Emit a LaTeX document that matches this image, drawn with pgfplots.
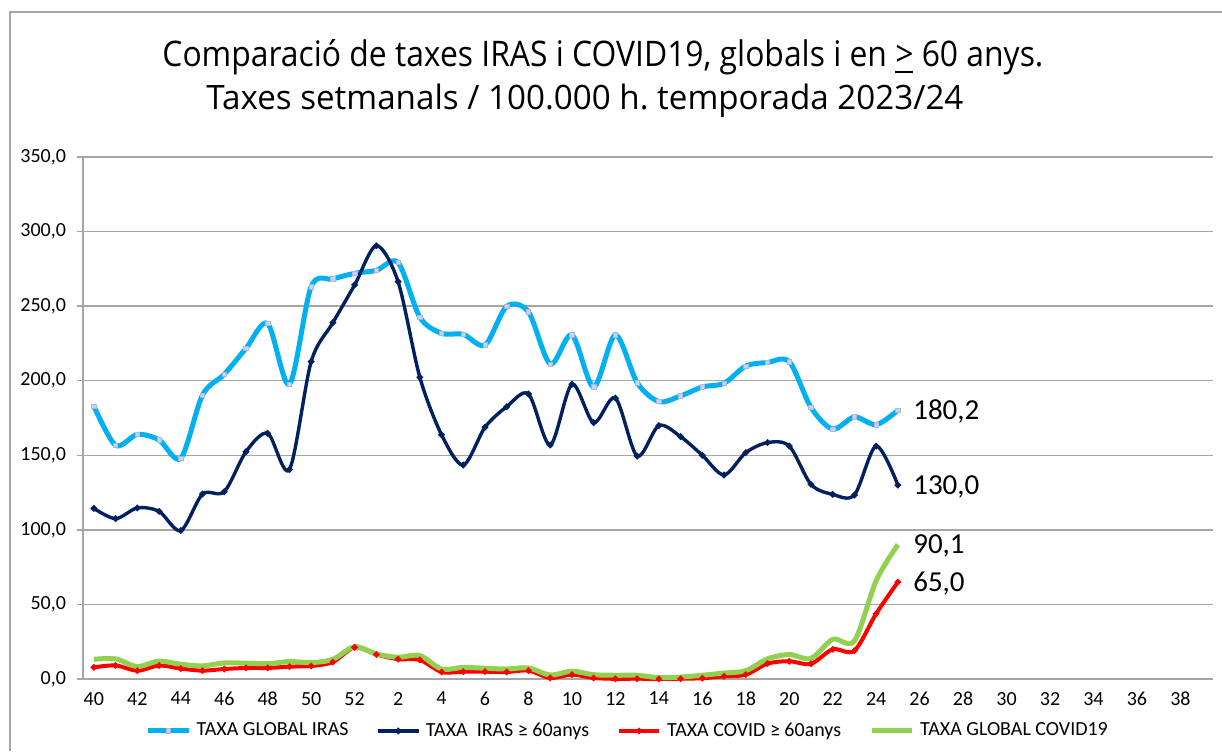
\documentclass[border=0pt]{standalone}
\usepackage{fontspec}
\setmainfont{Carlito}
\newfontfamily\titlefont{Open Sans}
\usepackage{pgfplots}
\usepackage{graphicx}
\pgfplotsset{compat=1.18}
\definecolor{lblue}{HTML}{00B0F0}
\definecolor{navy}{HTML}{002060}
\definecolor{dotblue}{HTML}{0070C0}
\definecolor{cgreen}{HTML}{92D050}
\definecolor{cred}{HTML}{FF0000}
\definecolor{gridc}{HTML}{A6A6A6}
\definecolor{markfill}{HTML}{C9D3EF}
\definecolor{markdraw}{HTML}{A9B8E0}
\frenchspacing
\begin{document}
\begin{tikzpicture}
\useasboundingbox (0,0) rectangle (611pt,375.5pt);
\fill[white] (0,0) rectangle (611pt,375.5pt);
\draw[gridc, line width=1pt] (5pt,0) -- (5pt,369.5pt) -- (611pt,369.5pt);
\node[anchor=base west, inner sep=0] at (81pt,342pt) {\resizebox{440.5pt}{13.5pt}{\titlefont Comparació de taxes IRAS i COVID19, globals i en \underline{>} 60 anys.}};
\node[anchor=base west, inner sep=0] at (103pt,320.5pt) {\resizebox{378.5pt}{12.75pt}{\titlefont Taxes setmanals / 100.000 h. temporada 2023/24}};
\begin{axis}[
  at={(41.5pt,36pt)}, anchor=south west,
  scale only axis, width=565pt, height=261pt,
  xmin=-0.5, xmax=51.5, ymin=0, ymax=350,
  clip=false,
  axis x line*=bottom, axis y line*=left,
  axis line style={gridc, line width=0.75pt, -},
  ytick={0,50,...,350},
  ymajorgrids=true,
  grid style={gridc, line width=0.75pt},
  yticklabel={\pgfmathprintnumber[fixed,fixed zerofill,precision=1,use comma]{\tick}},
  /pgf/number format/assume math mode=true,
  xtick={0,2,...,50},
  xticklabels={40,42,44,46,48,50,52,2,4,6,8,10,12,14,16,18,20,22,24,26,28,30,32,34,36,38},
  minor xtick={-0.5,0.5,...,51.5},
  tick align=outside,
  major tick length=3pt, minor tick length=3pt,
  xtick style={draw=none},
  minor x tick style={gridc, line width=0.75pt},
  ytick style={gridc, line width=0.75pt},
  tick label style={font=\fontsize{10}{12}\selectfont, black},
  yticklabel style={xshift=-2pt},
  legend columns=4,
  legend style={draw=none, fill=none, at={(axis description cs:0.483,-0.0996)}, anchor=center,
    font=\fontsize{10}{12}\selectfont, /tikz/every even column/.append style={column sep=12pt},
    /tikz/every odd column/.append style={column sep=1pt}},
  legend cell align=left,
  legend image code/.code={\draw[#1, mark repeat=2, mark phase=2] plot coordinates {(0pt,0pt) (10pt,0pt) (20pt,0pt)};},
]
\addplot[lblue, line width=2.5pt, smooth, mark=square*, mark size=1.1pt, mark options={fill=markfill, draw=markdraw, line width=0.3pt}] coordinates {
(0,183.0)(1,156.7)(2,164.0)(3,160.3)(4,148.0)(5,190.4)(6,204.3)(7,221.7)(8,238.3)(9,197.6)(10,263.1)(11,268.2)(12,272.0)(13,274.0)(14,279.2)(15,242.6)(16,231.8)(17,231.1)(18,224.0)(19,249.9)(20,246.1)(21,211.2)(22,230.7)(23,195.8)(24,230.7)(25,198.7)(26,186.0)(27,189.8)(28,195.8)(29,198.3)(30,209.8)(31,212.2)(32,212.8)(33,182.1)(34,167.6)(35,175.7)(36,170.5)(37,180.2)};
\addlegendentry{TAXA GLOBAL IRAS}
\addplot[navy, line width=1.7pt, smooth, mark=*, mark size=0.6pt, mark options={fill=dotblue, draw=none}] coordinates {
(0,114.4)(1,107.5)(2,114.7)(3,112.4)(4,99.5)(5,124.0)(6,125.6)(7,152.4)(8,164.7)(9,140.5)(10,212.8)(11,238.9)(12,264.2)(13,290.5)(14,266.4)(15,202.3)(16,163.8)(17,143.5)(18,168.8)(19,182.6)(20,191.1)(21,156.9)(22,197.6)(23,171.9)(24,188.4)(25,149.5)(26,169.9)(27,162.5)(28,150.0)(29,136.8)(30,151.8)(31,158.5)(32,156.2)(33,130.5)(34,123.8)(35,123.4)(36,156.2)(37,130.0)};
\addlegendentry{TAXA\ \ IRAS ≥ 60anys}
\addplot[cred, line width=2pt, smooth, mark=*, mark size=0.35pt, mark options={fill=red!75!black, draw=none}] coordinates {
(0,7.8)(1,9.1)(2,5.6)(3,9.0)(4,7.0)(5,5.6)(6,6.7)(7,7.4)(8,7.4)(9,8.3)(10,8.7)(11,11.4)(12,21.2)(13,16.4)(14,13.3)(15,12.8)(16,4.7)(17,4.9)(18,4.9)(19,4.7)(20,5.6)(21,0.7)(22,2.9)(23,0.7)(24,0.1)(25,0.2)(26,0.0)(27,0.2)(28,0.5)(29,1.8)(30,2.9)(31,10.3)(32,11.9)(33,10.2)(34,19.9)(35,19.0)(36,43.8)(37,65.0)};
\addlegendentry{TAXA COVID ≥ 60anys}
\addplot[cgreen, line width=2.5pt, smooth] coordinates {
(0,13.2)(1,13.5)(2,8.4)(3,12.0)(4,9.9)(5,8.8)(6,10.8)(7,10.6)(8,10.3)(9,11.7)(10,11.0)(11,13.2)(12,21.7)(13,16.8)(14,14.6)(15,15.7)(16,6.7)(17,7.8)(18,7.2)(19,6.7)(20,7.4)(21,2.7)(22,5.2)(23,2.9)(24,2.5)(25,2.5)(26,0.9)(27,1.3)(28,2.5)(29,4.0)(30,5.6)(31,13.5)(32,16.4)(33,13.8)(34,26.6)(35,25.6)(36,65.9)(37,90.1)};
\addlegendentry{TAXA GLOBAL COVID19}
\node[anchor=base west, inner sep=0, xshift=7.5pt, yshift=-4.5pt, font=\fontsize{14.5}{16}\selectfont] at (axis cs:37,180.2) {180,2};
\node[anchor=base west, inner sep=0, xshift=7.5pt, yshift=-4.5pt, font=\fontsize{14.5}{16}\selectfont] at (axis cs:37,130.0) {130,0};
\node[anchor=base west, inner sep=0, xshift=7.5pt, yshift=-4.5pt, font=\fontsize{14.5}{16}\selectfont] at (axis cs:37,90.1) {90,1};
\node[anchor=base west, inner sep=0, xshift=7.5pt, yshift=-4.5pt, font=\fontsize{14.5}{16}\selectfont] at (axis cs:37,65.0) {65,0};
\end{axis}
\end{tikzpicture}
\end{document}
